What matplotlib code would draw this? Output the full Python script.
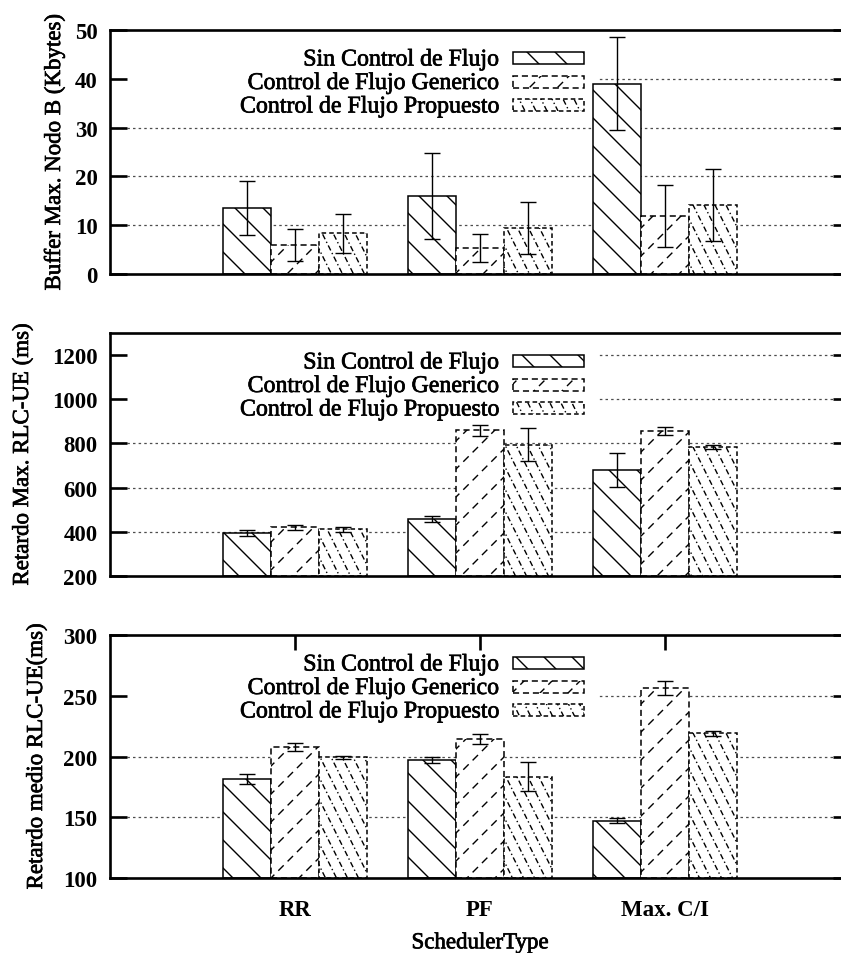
import numpy as np
import matplotlib
matplotlib.use('Agg')
import matplotlib.pyplot as plt
import matplotlib.patheffects as pe
from matplotlib.patches import Rectangle
from matplotlib.lines import Line2D
from matplotlib.transforms import IdentityTransform

plt.rcParams['font.family'] = 'Liberation Serif'

schedulers = ['RR', 'PF', 'Max. C/I']
series = ['Sin Control de Flujo', 'Control de Flujo Generico', 'Control de Flujo Propuesto']

# Buffer maximo en el Nodo B (Kbytes)
buffer_sin = [13.5, 15.9, 39.0]
buffer_sin_err = [5.6, 8.8, 9.5]
buffer_gen = [5.9, 5.3, 11.9]
buffer_gen_err = [3.3, 2.8, 6.3]
buffer_prop = [8.3, 9.5, 14.2]
buffer_prop_err = [3.9, 5.3, 7.4]

# Retardo maximo RLC-UE (ms)
rmax_sin = [393, 457, 680]
rmax_sin_err = [14, 14, 79]
rmax_gen = [420, 860, 856]
rmax_gen_err = [12, 25, 18]
rmax_prop = [411, 795, 784]
rmax_prop_err = [12, 73, 7]

# Retardo medio RLC-UE (ms)
rmed_sin = [181.5, 197.4, 147.2]
rmed_sin_err = [4, 2.5, 2]
rmed_gen = [207.9, 214.4, 256.3]
rmed_gen_err = [3, 4, 6]
rmed_prop = [199.3, 183.3, 219.0]
rmed_prop_err = [1.5, 12, 2]

W, H = 841, 954
fig = plt.figure(figsize=(W / 100, H / 100), dpi=100)

# slightly heavier strokes for the regular-weight text
heavy = [pe.withStroke(linewidth=0.5, foreground='black')]

# hatch / border style per series: (slope, step px, hatch dashes, border dashes)
styles = [
    (-1.0, 28, '-', '-'),
    (1.0, 28, (0, (5.5, 4.0)), (0, (4.0, 2.5))),
    (-2.0, 22, (0, (4.0, 2.0, 1.0, 2.0)), (0, (3.0, 2.0))),
]


def add_hatch(ax, rect, slope, step, ls, lw=1.0):
    # draw hatch lines in pixel space, clipped to the rectangle
    bb = rect.get_window_extent()
    corners = [(bb.x0, bb.y0), (bb.x0, bb.y1), (bb.x1, bb.y0), (bb.x1, bb.y1)]
    cs = [y - slope * x for x, y in corners]
    xs = np.array([bb.x0 - 2, bb.x1 + 2])
    for c in np.arange(np.floor(min(cs) / step) * step, max(cs) + step, step):
        ln = Line2D(xs, slope * xs + c, transform=IdentityTransform(),
                    color='black', lw=lw, ls=ls, zorder=1.2)
        ax.add_artist(ln)
        ln.set_clip_path(rect)


def make_panel(top, bottom, ylim, yticks, ylabel, label_x, data, errs, last=False):
    left, right = 110, 850
    w, h = right - left, bottom - top
    ax = fig.add_axes([left / W, 1 - bottom / H, w / W, h / H])
    ax.set_xlim(0, 4)
    ax.set_ylim(*ylim)
    ax.set_yticks(yticks)
    plt.setp(ax.get_yticklabels(), fontweight='bold', fontsize=16.5)
    ax.tick_params(axis='y', direction='in', length=12, width=1.9,
                   left=True, right=True, pad=9)
    for sp in ax.spines.values():
        sp.set_linewidth(1.9)

    for v in yticks:
        if ylim[0] < v < ylim[1]:
            ax.axhline(v, color='0.3', lw=0.9, ls=(0, (2, 2.5)), zorder=0.5)

    def ax_x(px):
        return (px - left) / w

    def ax_y(px):
        return 1 - px / h

    # key area is opaque over the grid
    ax.add_patch(Rectangle((0, ax_y(88)), ax_x(597), (88 - 10) / h,
                           transform=ax.transAxes, facecolor='white',
                           edgecolor='none', zorder=0.7))

    x = np.arange(1, len(schedulers) + 1)
    width = 0.26
    offsets = [-width, 0, width]
    for vals, err, off, st in zip(data, errs, offsets, styles):
        slope, step, hls, bls = st
        vals = np.array(vals, dtype=float)
        bars = ax.bar(x + off, vals - ylim[0], bottom=ylim[0], width=width,
                      facecolor='white', edgecolor='black', linewidth=1.1,
                      linestyle=bls, zorder=1)
        for b in bars:
            add_hatch(ax, b, slope, step, hls)
        ax.errorbar(x + off, vals, yerr=err, fmt='none', ecolor='black',
                    elinewidth=1.0, capsize=6, capthick=1.0, zorder=3)

    # key: right aligned names followed by a pattern sample
    for i, (name, st) in enumerate(zip(series, styles)):
        slope, step, hls, bls = st
        yc = 28 + 23.5 * i
        ax.text(ax_x(499), ax_y(yc + 7.5), name, transform=ax.transAxes,
                ha='right', va='baseline', fontsize=17.2, path_effects=heavy)
        r = Rectangle((ax_x(513), ax_y(yc + 6)), 71 / w, 12 / h,
                      transform=ax.transAxes, facecolor='white',
                      edgecolor='black', lw=1.1, ls=bls, zorder=1)
        ax.add_patch(r)
        add_hatch(ax, r, slope, step, hls)

    ax.set_ylabel(ylabel, fontsize=16.5, path_effects=heavy)
    ax.yaxis.set_label_coords(ax_x(label_x), 0.5)

    if last:
        ax.set_xticks(x)
        ax.set_xticklabels(schedulers, fontweight='bold', fontsize=16.5)
        ax.tick_params(axis='x', direction='in', length=11, width=1.9,
                       top=True, bottom=False, pad=15)
        ax.set_xlabel('SchedulerType', fontsize=16.5, labelpad=9,
                      path_effects=heavy)
    else:
        ax.set_xticks([])
    return ax


make_panel(31, 275, (0, 50), [0, 10, 20, 30, 40, 50],
           'Buffer Max. Nodo B (Kbytes)', 65,
           [buffer_sin, buffer_gen, buffer_prop],
           [buffer_sin_err, buffer_gen_err, buffer_prop_err])
make_panel(334, 577, (200, 1300), [200, 400, 600, 800, 1000, 1200],
           'Retardo Max. RLC-UE (ms)', 33,
           [rmax_sin, rmax_gen, rmax_prop],
           [rmax_sin_err, rmax_gen_err, rmax_prop_err])
make_panel(636, 879, (100, 300), [100, 150, 200, 250, 300],
           'Retardo medio RLC-UE(ms)', 47,
           [rmed_sin, rmed_gen, rmed_prop],
           [rmed_sin_err, rmed_gen_err, rmed_prop_err], last=True)

fig.savefig('out.png', dpi=100)
